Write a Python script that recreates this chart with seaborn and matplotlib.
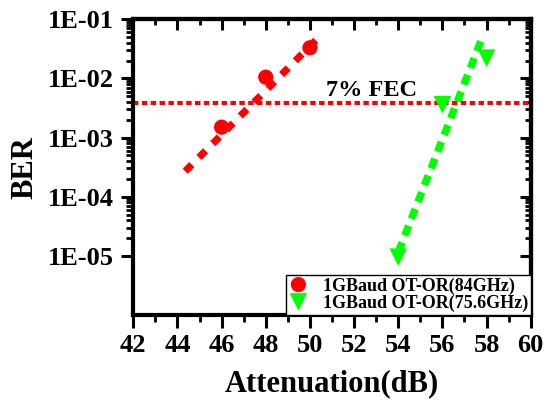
import matplotlib
matplotlib.use("Agg")
import matplotlib.pyplot as plt
import seaborn as sns
from matplotlib.ticker import FixedLocator, MultipleLocator, NullFormatter

# ---- data ----
att_84 = [46, 48, 50]
ber_84 = [1.5e-3, 1.05e-2, 3.3e-2]
att_756 = [54, 56, 58]
ber_756 = [9.5e-6, 3.6e-3, 2.2e-2]
fit_att_84 = [44.35, 50.5]
fit_ber_84 = [2.7e-4, 5.4e-2]
fit_att_756 = [54.0, 57.85]
fit_ber_756 = [1.15e-5, 5.4e-2]
fec_level = 3.8e-3
label_84 = "1GBaud OT-OR(84GHz)"
label_756 = "1GBaud OT-OR(75.6GHz)"
x_ticks = [42, 44, 46, 48, 50, 52, 54, 56, 58, 60]
y_ticks = [1e-5, 1e-4, 1e-3, 1e-2, 1e-1]
y_tick_labels = ["1E-05", "1E-04", "1E-03", "1E-02", "1E-01"]
x_label = "Attenuation(dB)"
y_label = "BER"
fec_text = "7% FEC"

sns.set_theme(style="ticks", rc={
    "axes.edgecolor": "black", "text.color": "black", "axes.labelcolor": "black",
    "xtick.color": "black", "ytick.color": "black"})
plt.rcParams["font.family"] = ["Liberation Serif", "DejaVu Serif"]
plt.rcParams["font.weight"] = "bold"
plt.rcParams["axes.labelweight"] = "bold"

fig = plt.figure(figsize=(5.45, 4.03), dpi=100)
ax = fig.add_axes([0.2446, 0.2184, 0.7292, 0.7337])
ax.set_yscale("log")
ax.set_xlim(42, 60)
ax.set_ylim(1e-6, 1e-1)

red = "#ff0000"
green = "#00ff00"

ax.axhline(fec_level, color=red, lw=2.9, linestyle=(0, (1.35, 0.85)), zorder=2)

sns.lineplot(x=fit_att_84, y=fit_ber_84, color=red, lw=5.2, estimator=None,
             sort=False, ax=ax, zorder=2)
ax.lines[-1].set_linestyle((0, (1.3, 1.4)))
sns.lineplot(x=fit_att_756, y=fit_ber_756, color=green, lw=5.4, estimator=None,
             sort=False, ax=ax, zorder=2)
ax.lines[-1].set_linestyle((0, (1.4, 1.0)))

sns.scatterplot(x=att_84, y=ber_84, color=red, marker="o", s=120,
                edgecolor="none", label=label_84, ax=ax, zorder=3)
sns.scatterplot(x=att_756, y=ber_756, color=green, marker="v", s=160,
                edgecolor="none", label=label_756, ax=ax, zorder=3)

ax.text(52.8, 6.2e-3, fec_text, ha="center", va="center", fontsize=17.5,
        fontweight="bold")

# ticks
ax.xaxis.set_major_locator(FixedLocator(x_ticks))
ax.xaxis.set_minor_locator(MultipleLocator(1))
ax.yaxis.set_major_locator(FixedLocator(y_ticks))
ax.set_yticklabels(y_tick_labels)
minor_y = [k * e for e in y_ticks[:-1] for k in range(2, 10)]
ax.yaxis.set_minor_locator(FixedLocator(minor_y))
ax.yaxis.set_minor_formatter(NullFormatter())
ax.tick_params(which="both", direction="out", top=False, right=False)
ax.tick_params(which="major", length=9, width=2.2, labelsize=19, pad=5)
ax.tick_params(which="minor", length=5, width=2)
for s in ax.spines.values():
    s.set_linewidth(3)
    s.set_color("black")

secx = ax.secondary_xaxis("top")
secx.xaxis.set_major_locator(FixedLocator(x_ticks))
secx.xaxis.set_minor_locator(MultipleLocator(1))
secx.tick_params(which="both", direction="in", labeltop=False)
secx.tick_params(which="major", length=8, width=2.2)
secx.tick_params(which="minor", length=4, width=2)
secx.spines["top"].set_linewidth(3)

secy = ax.secondary_yaxis("right")
secy.yaxis.set_major_locator(FixedLocator(y_ticks))
secy.yaxis.set_minor_locator(FixedLocator(minor_y))
secy.tick_params(which="both", direction="in", labelright=False)
secy.tick_params(which="major", length=8, width=2.2)
secy.tick_params(which="minor", length=4, width=2)
secy.spines["right"].set_linewidth(3)

ax.set_xlabel(x_label, fontsize=22, fontweight="bold", va="center")
ax.xaxis.set_label_coords(0.5, -0.233)
ax.set_ylabel(y_label, fontsize=22, fontweight="bold", va="center")
ax.yaxis.set_label_coords(-0.2725, 0.5)

leg = ax.legend(loc="lower right", bbox_to_anchor=(1, 0), borderaxespad=0,
                fancybox=False, framealpha=1, edgecolor="black",
                prop={"size": 13, "weight": "bold"}, borderpad=0.15,
                labelspacing=0.0, handlelength=1.1, handletextpad=0.8,
                scatteryoffsets=[0.5])
leg.get_frame().set_linewidth(1.0)
leg.set_zorder(5)

fig.savefig("out.png", dpi=100)
